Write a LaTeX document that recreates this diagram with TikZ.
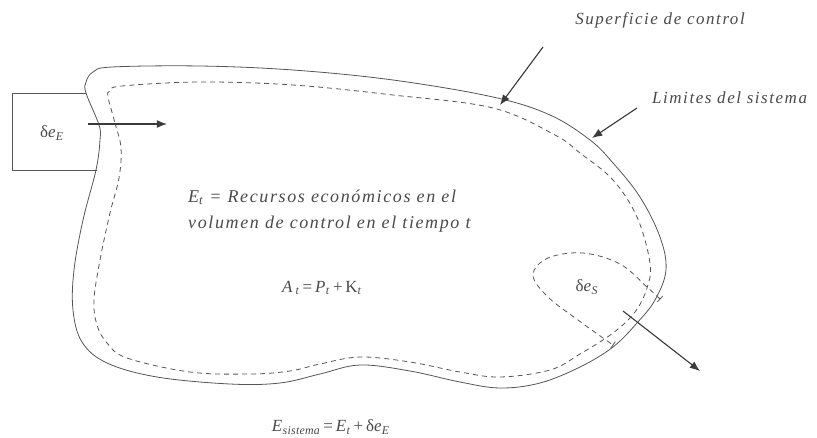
\documentclass[tikz,border=0pt]{standalone}
\usepackage{fontspec}
\setmainfont{Liberation Serif}[LetterSpace=9]
\usepackage{tikz}
\usetikzlibrary{arrows.meta}

\definecolor{linea}{HTML}{555555}
\definecolor{flecha}{HTML}{3A3A3A}
\definecolor{texto}{HTML}{4A4A4A}

\begin{document}
\begin{tikzpicture}[
  x=1pt, y=-1pt,
  limite/.style={draw=linea, line width=0.8pt},
  control/.style={draw=linea, line width=0.8pt, dash pattern=on 5pt off 4pt},
  arr/.style={-{Latex[length=3.6mm, width=2.8mm]}, draw=flecha, fill=flecha, line width=1.1pt},
  etiq/.style={font=\fontsize{17}{26}\selectfont\itshape, text=texto, inner sep=0pt},
  formula/.style={font=\fontsize{17}{26}\selectfont\addfontfeatures{LetterSpace=2}, text=texto, inner sep=0pt}
]
\useasboundingbox (0,0) rectangle (817,437);

% system limits and control surface
\draw[limite] plot[smooth cycle, tension=0.6] coordinates {
  (86,82) (86,93) (99,125) (100,140) (96,170) (83,220) (74,270) (73,310)
  (82,342) (107,363) (157,377) (230,384) (280,383) (320,374) (360,365)
  (410,371) (460,382) (500,388) (540,383) (580,367) (613,347) (637,323)
  (655,300) (666,270) (660,237) (640,197) (613,163) (590,140) (550,115)
  (493,97) (393,80) (293,70) (200,66) (112,67) (93,72)};
\draw[control] plot[smooth cycle, tension=0.6] coordinates {
  (108,97) (115,123) (121,148) (119,178) (110,213) (100,260) (94,300)
  (97,325) (107,343) (127,358) (190,372) (250,374) (290,371) (320,364)
  (360,357) (410,362) (460,372) (500,377) (550,370) (580,354) (613,333)
  (635,312) (647,288) (650,263) (637,217) (613,180) (580,153) (555,135)
  (493,108) (393,95) (293,85) (200,82) (122,86) (110,91)};

% outflow region
\draw[control] plot[smooth, tension=0.6] coordinates {
  (660,299) (647,287) (620,264) (583,253) (548,258) (533,275) (548,297)
  (578,320) (603,338) (613,345)};
\draw[limite] (657.3,301.9) -- (662.7,296.1);
\draw[limite] (610.7,348.3) -- (615.3,341.7);

% inflow box
\draw[limite] (86,93) -- (12,93) -- (12,170) -- (97,170);

\node[formula] (entrada) at (52,133) {δ\textit{e}\textsubscript{\textit{E}}};
\node[formula] (salida) at (587,287) {δ\textit{e}\textsubscript{\textit{S}}};

\node[etiq] (superficie) at (660,20) {Superficie de control};
\node[etiq, anchor=west] (limites) at (652,98) {Limites del sistema};

\node[etiq, font=\fontsize{18}{26}\selectfont\itshape, align=left, anchor=west] (recursos) at (188,211)
  {\textit{E}\textsubscript{\textit{t}} = Recursos económicos en el\\
   volumen de control en el tiempo \textit{t}};
\node[formula] (activos) at (322,288)
  {\textit{A}\,\textsubscript{\textit{t}}\,=\,\textit{P}\textsubscript{\textit{t}}\,+\,K\textsubscript{\textit{t}}};
\node[formula] (sistema) at (331,427)
  {\textit{E}\textsubscript{\textit{sistema}}\,=\,\textit{E}\textsubscript{\textit{t}}\,+\,δ\textit{e}\textsubscript{\textit{E}}};

\coordinate (supini) at (543,47);
\coordinate (supfin) at (500,105);
\coordinate (limini) at (637,108);
\coordinate (limfin) at (592,138);
\coordinate (ein) at (88,124);
\coordinate (eout) at (167,124);
\coordinate (sin) at (623,311);
\coordinate (sout) at (700,371);

\draw[arr] (supini) -- (supfin);
\draw[arr] (limini) -- (limfin);
\draw[arr] (ein) -- (eout);
\draw[arr] (sin) -- (sout);

\end{tikzpicture}
\end{document}
